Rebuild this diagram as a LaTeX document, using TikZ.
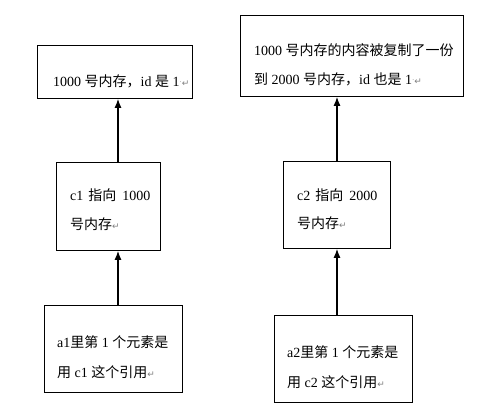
\documentclass[tikz,border=0pt]{standalone}
\usepackage{fontspec}
\setmainfont{Liberation Serif}
\newfontfamily\cjk{Noto Sans CJK SC}
\newfontfamily\dvs{DejaVu Sans}
\usetikzlibrary{arrows.meta}
\newcommand{\zh}[1]{{\cjk #1}}
\newcommand{\ret}{{\dvs\fontsize{9}{9}\selectfont\color{gray}↵}}
\newcommand{\sdot}{{\color{gray}\raisebox{2pt}{\fontsize{7}{7}\selectfont·}}}
\tikzset{
  box/.style={draw=black, line width=0.9pt, inner sep=0pt, anchor=north west},
  txt/.style={anchor=base west, inner sep=0pt, font=\fontsize{14}{14}\selectfont},
  arr/.style={draw=black, line width=1.1pt, -{Latex[length=9pt,width=7pt]}}
}
\begin{document}
\begin{tikzpicture}[x=1pt,y=-1pt]
\useasboundingbox (0,0) rectangle (500,411);
% boxes
\node[box, minimum width=155pt, minimum height=53pt] (b1) at (37,45) {};
\node[box, minimum width=223pt, minimum height=81pt] (b2) at (240,15) {};
\node[box, minimum width=104pt, minimum height=88pt] (b3) at (56,162) {};
\node[box, minimum width=107pt, minimum height=87pt] (b4) at (283,161) {};
\node[box, minimum width=138pt, minimum height=87pt] (b5) at (44,305) {};
\node[box, minimum width=138pt, minimum height=87pt] (b6) at (274,315) {};
% texts
\node[txt] (t1) at (53,87) {1000 \zh{号内存，}id \zh{是} 1\sdot\ret};
\node[txt] (t2a) at (254,56) {1000 \zh{号内存的内容被复制了一份}};
\node[txt] (t2b) at (254,85) {\zh{到} 2000 \zh{号内存，}id \zh{也是} 1\sdot\ret};
\node[txt] (t3a) at (70,201) {c1\hspace{5pt}\zh{指向}\hspace{6pt}1000};
\node[txt] (t3b) at (70,230) {\zh{号内存}\ret};
\node[txt] (t4a) at (297,201) {c2\hspace{5pt}\zh{指向}\hspace{6pt}2000};
\node[txt] (t4b) at (297,229) {\zh{号内存}\ret};
\node[txt] (t5a) at (57,347) {a1\zh{里第} 1 \zh{个元素是}};
\node[txt] (t5b) at (57,377) {\zh{用} c1 \zh{这个引用}\ret};
\node[txt] (t6a) at (287,357) {a2\zh{里第} 1 \zh{个元素是}};
\node[txt] (t6b) at (287,387) {\zh{用} c2 \zh{这个引用}\ret};
% arrows
\coordinate (ax1) at (118,0);
\coordinate (ax2) at (337,0);
\draw[arr] (b5.north -| ax1) -- (b3.south -| ax1);
\draw[arr] (b3.north -| ax1) -- (b1.south -| ax1);
\draw[arr] (b6.north -| ax2) -- (b4.south -| ax2);
\draw[arr] (b4.north -| ax2) -- (b2.south -| ax2);
\end{tikzpicture}
\end{document}
